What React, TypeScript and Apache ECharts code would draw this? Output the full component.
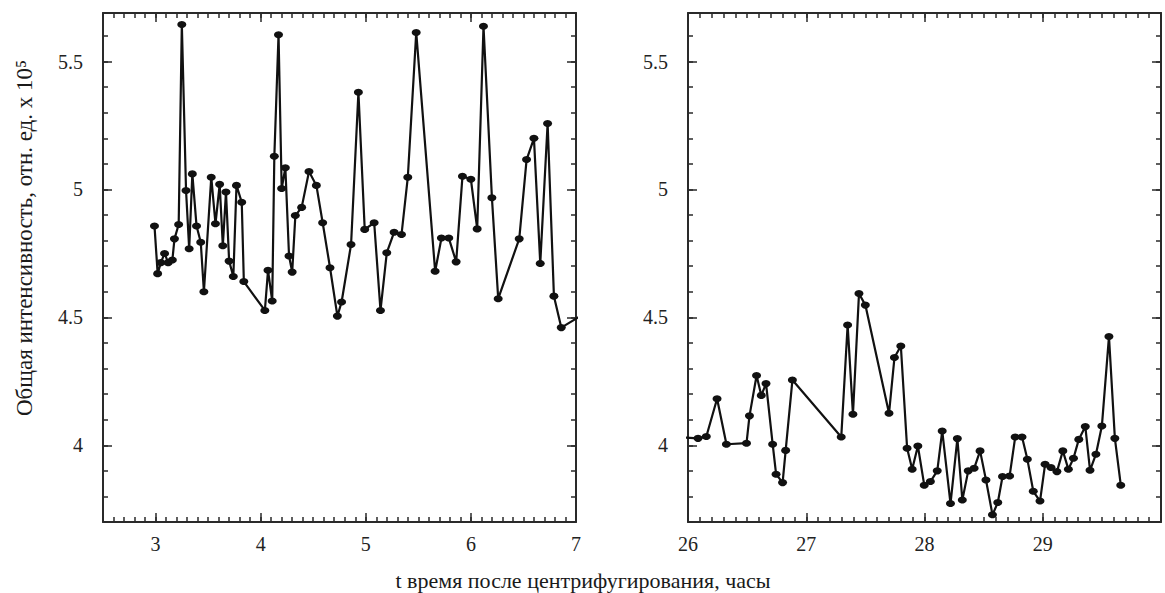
import React, { useEffect, useRef } from "react";
import * as echarts from "echarts";

// Left panel: time (h) and intensity (rel. units x 10^5)
const leftTime = [
  2.99, 3.02, 3.05, 3.086, 3.12, 3.16, 3.18, 3.22, 3.25, 3.29, 3.32, 3.35, 3.39, 3.43, 3.46,
  3.53, 3.57, 3.61, 3.64, 3.67, 3.7, 3.74, 3.77, 3.82, 3.84, 4.04, 4.07, 4.11, 4.13, 4.17,
  4.2, 4.235, 4.27, 4.3, 4.33, 4.39, 4.46, 4.53, 4.59, 4.66, 4.73, 4.77, 4.86, 4.93, 4.99,
  5.08, 5.14, 5.2, 5.27, 5.34, 5.4, 5.48, 5.66, 5.72, 5.79, 5.86, 5.92, 6.0, 6.06, 6.12,
  6.2, 6.26, 6.46, 6.53, 6.6, 6.66, 6.73, 6.79, 6.86, 7.04,
];
const leftIntensity = [
  4.857, 4.671, 4.714, 4.75, 4.714, 4.724, 4.807, 4.863, 5.645, 4.996, 4.768, 5.061, 4.857, 4.794, 4.6,
  5.048, 4.866, 5.02, 4.78, 4.99, 4.72, 4.66, 5.016, 4.95, 4.64, 4.527, 4.684, 4.564, 5.13, 5.605,
  5.004, 5.085, 4.74, 4.677, 4.898, 4.93, 5.07, 5.016, 4.87, 4.694, 4.505, 4.56, 4.785, 5.38, 4.844,
  4.87, 4.527, 4.753, 4.833, 4.824, 5.048, 5.614, 4.68, 4.81, 4.81, 4.717, 5.052, 5.04, 4.846, 5.638,
  4.968, 4.573, 4.807, 5.117, 5.2, 4.711, 5.258, 4.583, 4.46, 4.505,
];

// Right panel
const rightTime = [
  25.97, 26.085, 26.155, 26.246, 26.325, 26.495, 26.52, 26.58, 26.62, 26.66, 26.716, 26.745, 26.8, 26.826, 26.883,
  27.296, 27.35, 27.395, 27.446, 27.5, 27.7, 27.746, 27.8, 27.853, 27.896, 27.944, 27.998, 28.05, 28.108, 28.15,
  28.22, 28.278, 28.32, 28.37, 28.42, 28.47, 28.52, 28.575, 28.62, 28.66, 28.72, 28.767, 28.825, 28.87, 28.92,
  28.977, 29.02, 29.07, 29.12, 29.17, 29.217, 29.26, 29.305, 29.36, 29.4, 29.45, 29.5, 29.56, 29.61, 29.66,
];
const rightIntensity = [
  4.03, 4.027, 4.034, 4.182, 4.004, 4.008, 4.115, 4.273, 4.195, 4.241, 4.004, 3.887, 3.854, 3.98, 4.255,
  4.032, 4.47, 4.121, 4.593, 4.548, 4.125, 4.343, 4.388, 3.988, 3.906, 3.997, 3.844, 3.858, 3.9, 4.056,
  3.772, 4.026, 3.786, 3.9, 3.91, 3.978, 3.864, 3.728, 3.776, 3.878, 3.88, 4.032, 4.032, 3.945, 3.82,
  3.782, 3.926, 3.913, 3.897, 3.978, 3.906, 3.949, 4.023, 4.073, 3.902, 3.965, 4.075, 4.425, 4.027, 3.844,
];

const leftXLabels = [3, 4, 5, 6, 7];
const rightXLabels = [26, 27, 28, 29];
const yLabels = [4, 4.5, 5, 5.5];
const xTitle = "t время после центрифугирования, часы";
const yTitle = "Общая интенсивность, отн. ед. x 10⁵";

const FONT = "Liberation Serif";
const AXIS_COLOR = "#2a2a2a";

const isListed = (list: number[], v: number) => list.some((l) => Math.abs(l - v) < 1e-6);

export default function App() {
  const ref = useRef<HTMLDivElement>(null);

  useEffect(() => {
    if (!ref.current) return;
    const chart = echarts.init(ref.current, undefined, { renderer: "svg" });

    const Y_MIN = 3.7;
    const Y_MAX = 5.69;

    const leftRect = { left: 103, top: 13, width: 473, height: 509 };
    const rightRect = { left: 688, top: 13, width: 473, height: 509 };

    const labelStyle = (list: number[]) => ({
      fontFamily: FONT,
      fontSize: 20,
      color: "#222",
      showMinLabel: true,
      showMaxLabel: true,
      hideOverlap: false,
      formatter: (v: number) => (isListed(list, v) ? "{n|" + String(Math.round(v * 10) / 10) + "}" : ""),
      rich: {
        n: { fontFamily: FONT, fontSize: 20, color: "#222", fontWeight: "normal" },
      },
    });

    const mainX = (gridIndex: number, position: string, min: number, max: number, step: number, labels: number[], showLabel: boolean) => ({
      type: "value",
      gridIndex,
      position,
      min,
      max,
      interval: step,
      axisLine: { show: true, onZero: false, lineStyle: { color: AXIS_COLOR, width: 2 } },
      axisTick: { show: true, inside: true, length: 9, customValues: labels, lineStyle: { color: AXIS_COLOR, width: 1.5 } },
      axisLabel: {
        show: showLabel,
        ...labelStyle(labels),
        margin: 12,
      },
      splitLine: { show: false },
    });
    const minorX = (gridIndex: number, position: string, min: number, max: number) => ({
      type: "value",
      gridIndex,
      position,
      min,
      max,
      interval: 0.1,
      axisLine: { show: false, onZero: false },
      axisTick: { show: true, inside: true, length: 5, lineStyle: { color: AXIS_COLOR, width: 1.5 } },
      axisLabel: { show: false },
      splitLine: { show: false },
    });
    const mainY = (gridIndex: number, position: string, showLabel: boolean) => ({
      type: "value",
      gridIndex,
      position,
      min: Y_MIN,
      max: Y_MAX,
      interval: 0.1,
      axisLine: { show: true, onZero: false, lineStyle: { color: AXIS_COLOR, width: 2 } },
      axisTick: { show: true, inside: true, length: 9, customValues: yLabels, lineStyle: { color: AXIS_COLOR, width: 1.5 } },
      axisLabel: {
        show: showLabel,
        ...labelStyle(yLabels),
        margin: 20,
      },
      splitLine: { show: false },
    });
    const minorY = (gridIndex: number, position: string) => ({
      type: "value",
      gridIndex,
      position,
      min: Y_MIN,
      max: Y_MAX,
      interval: 0.1,
      axisLine: { show: false, onZero: false },
      axisTick: { show: true, inside: true, length: 5, lineStyle: { color: AXIS_COLOR, width: 1.5 } },
      axisLabel: { show: false },
      splitLine: { show: false },
    });

    const seriesStyle = {
      type: "line",
      symbol: "circle",
      symbolSize: [9, 7],
      showSymbol: true,
      lineStyle: { color: "#111", width: 2.2 },
      itemStyle: { color: "#111" },
      clip: true,
      z: 5,
    };

    chart.setOption({
      animation: false,
      backgroundColor: "#fff",
      textStyle: { fontFamily: FONT },
      grid: [
        { ...leftRect, containLabel: false },
        { ...leftRect, containLabel: false },
        { ...rightRect, containLabel: false },
        { ...rightRect, containLabel: false },
      ],
      xAxis: [
        mainX(0, "bottom", 2.5, 7, 0.5, leftXLabels, true),
        mainX(0, "top", 2.5, 7, 0.5, leftXLabels, false),
        minorX(1, "bottom", 2.5, 7),
        minorX(1, "top", 2.5, 7),
        mainX(2, "bottom", 26, 30, 1, rightXLabels, true),
        mainX(2, "top", 26, 30, 1, rightXLabels, false),
        minorX(3, "bottom", 26, 30),
        minorX(3, "top", 26, 30),
      ],
      yAxis: [
        mainY(0, "left", true),
        mainY(0, "right", false),
        minorY(1, "left"),
        minorY(1, "right"),
        mainY(2, "left", true),
        mainY(2, "right", false),
        minorY(3, "left"),
        minorY(3, "right"),
      ],
      series: [
        {
          ...seriesStyle,
          name: "left",
          xAxisIndex: 0,
          yAxisIndex: 0,
          data: leftTime.map((t, i) => [t, leftIntensity[i]]),
        },
        {
          ...seriesStyle,
          name: "right",
          xAxisIndex: 4,
          yAxisIndex: 4,
          data: rightTime.map((t, i) => [t, rightIntensity[i]]),
        },
      ],
      graphic: [
        {
          type: "text",
          x: 583,
          y: 580,
          style: {
            text: xTitle,
            fontFamily: FONT,
            fontSize: 22,
            fill: "#1a1a1a",
            align: "center",
            verticalAlign: "middle",
          },
        },
        {
          type: "text",
          x: 24,
          y: 238,
          rotation: Math.PI / 2,
          style: {
            text: yTitle,
            fontFamily: FONT,
            fontSize: 23,
            fill: "#1a1a1a",
            align: "center",
            verticalAlign: "middle",
          },
        },
      ],
    });

    return () => {
      chart.dispose();
    };
  }, []);

  return (
    <div
      ref={ref}
      style={{ position: "absolute", left: 0, top: 0, width: 1165, height: 593, background: "#fff" }}
    />
  );
}
